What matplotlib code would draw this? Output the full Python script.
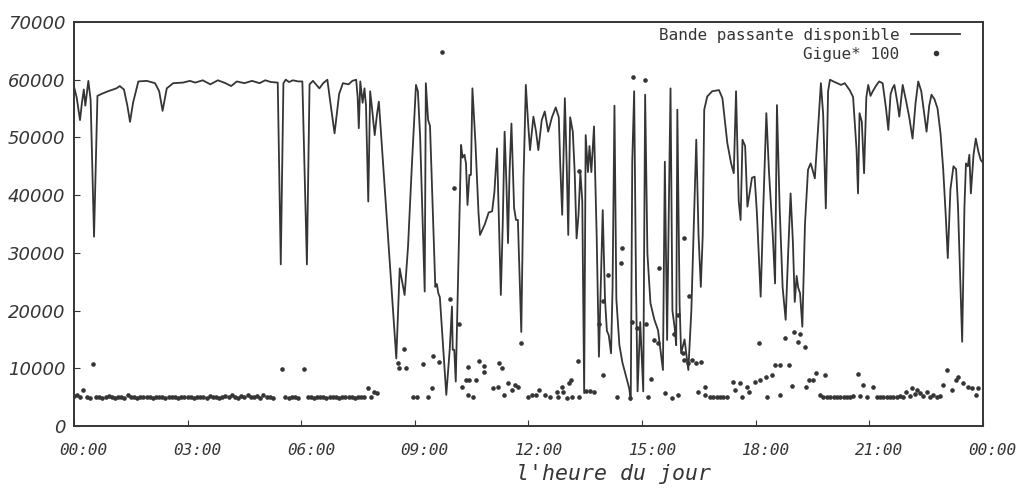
import numpy as np
import matplotlib
matplotlib.use('Agg')
import matplotlib.pyplot as plt
from matplotlib.transforms import ScaledTranslation

# bande passante disponible (heure du jour, valeur)
bw_h = [0.00, 0.07, 0.16, 0.21, 0.26, 0.30, 0.38, 0.44, 0.53, 0.62, 0.75, 0.90, 1.03, 1.12, 1.21, 1.32,
        1.41, 1.48, 1.56, 1.70, 1.92, 2.14, 2.25, 2.34, 2.45, 2.62, 2.88, 3.06,
        3.20, 3.40, 3.60, 3.80, 4.00, 4.15, 4.30, 4.50, 4.70, 4.90, 5.05, 5.20, 5.38, 5.46, 5.53, 5.59,
        5.68, 5.78, 5.92, 6.03, 6.15, 6.22, 6.31, 6.40, 6.48, 6.58, 6.69, 6.75, 6.88, 7.00, 7.10, 7.25,
        7.35, 7.45, 7.49, 7.52, 7.56, 7.62, 7.67, 7.71, 7.77, 7.82, 7.87, 7.94, 8.00, 8.05,
        8.51, 8.60, 8.73, 8.82, 8.92, 9.03, 9.08, 9.14, 9.26, 9.29, 9.35, 9.40, 9.54, 9.58, 9.62, 9.66,
        9.83, 9.92, 9.98, 10.00, 10.04, 10.08, 10.16, 10.22, 10.26, 10.31, 10.35, 10.39, 10.44, 10.48,
        10.52, 10.60, 10.68, 10.72, 10.85, 10.95, 11.04, 11.10, 11.17, 11.21, 11.27, 11.32, 11.37, 11.42,
        11.46, 11.50, 11.55, 11.62, 11.67, 11.72, 11.81, 11.87, 11.93, 11.99, 12.04, 12.13, 12.20, 12.26,
        12.35, 12.43, 12.52, 12.62, 12.72, 12.80, 12.84, 12.89, 12.96, 13.01, 13.05, 13.10, 13.17, 13.22,
        13.27, 13.32, 13.37, 13.42, 13.47, 13.51, 13.57, 13.61, 13.66, 13.73, 13.80, 13.86, 13.96, 14.02,
        14.07, 14.12, 14.18, 14.22, 14.27, 14.32, 14.40, 14.48, 14.58, 14.66, 14.70, 14.74, 14.79, 14.84,
        14.88, 14.95, 15.03, 15.08, 15.14, 15.22, 15.32, 15.42, 15.55, 15.60, 15.66, 15.70, 15.75, 15.80,
        15.86, 15.90, 15.93, 15.99, 16.03, 16.12, 16.22, 16.30, 16.37, 16.43, 16.49, 16.55, 16.60, 16.64,
        16.72, 16.85, 17.03, 17.12, 17.25, 17.35, 17.42, 17.48, 17.55, 17.60, 17.65, 17.72, 17.78, 17.83,
        17.90, 17.97, 18.03, 18.13, 18.20, 18.28, 18.35, 18.45, 18.51, 18.56, 18.63, 18.71, 18.79, 18.85,
        18.92, 18.98, 19.03, 19.08, 19.12, 19.17, 19.23, 19.30, 19.38, 19.45, 19.50, 19.56, 19.64, 19.72,
        19.78, 19.85, 19.91, 19.96, 20.05, 20.15, 20.25, 20.35, 20.48, 20.57, 20.66, 20.70, 20.74, 20.80,
        20.86, 20.92, 20.97, 21.03, 21.09, 21.18, 21.26, 21.35, 21.44, 21.50, 21.56, 21.61, 21.66, 21.74,
        21.79, 21.88, 21.97, 22.05, 22.14, 22.22, 22.29, 22.37, 22.45, 22.51, 22.58, 22.64, 22.72, 22.80,
        22.88, 22.95, 23.02, 23.07, 23.14, 23.22, 23.29, 23.34, 23.40, 23.45, 23.51, 23.55, 23.60, 23.64,
        23.68, 23.75, 23.81, 23.88, 23.94, 24.00]
bw = [58800, 57000, 53000, 56000, 58300, 55500, 59800, 56500, 32800, 57200, 57600, 58000, 58300, 58500, 58900, 58300,
      55500, 52700, 56000, 59700, 59800, 59400, 58000, 54600, 58500, 59400, 59500, 59800,
      59500, 59900, 59200, 59900, 59400, 58900, 59700, 59400, 59800, 59400, 59900, 59600, 59500, 28000, 59400, 60000,
      59600, 59900, 59700, 59700, 28000, 59200, 59800, 59100, 58500, 59400, 60000, 57000, 50700, 57500, 59400, 59200,
      59800, 60000, 57000, 51600, 59700, 56000, 58500, 55500, 38900, 58000, 55000, 50400, 54000, 56200,
      11700, 27300, 22700, 31100, 45000, 59100, 58000, 50000, 23300, 59400, 53000, 52000, 24100, 24600, 23000, 22300,
      5400, 13200, 20700, 13200, 13200, 7700, 31100, 48700, 46500, 47000, 45500, 38300, 43500, 43500,
      58500, 49000, 37000, 33100, 35000, 37000, 37200, 40500, 48100, 38000, 22700, 35000, 51000, 41500,
      31700, 44000, 52400, 37800, 35700, 35700, 16300, 43000, 59100, 52500, 47800, 53600, 51000, 47800,
      53000, 54500, 51000, 53500, 55200, 53500, 45000, 36600, 56800, 45000, 33100, 53500, 51000, 44000,
      32500, 36500, 44000, 39000, 5700, 50400, 44000, 48500, 44000, 51900, 33000, 12000, 37400, 22000,
      16500, 15700, 12600, 24000, 55500, 22000, 14000, 11000, 8500, 6500, 4500, 45800, 58000, 24000,
      6000, 18000, 6000, 57400, 29900, 21300, 18500, 16600, 9700, 45800, 14900, 35000, 58500, 20000,
      17000, 14000, 54800, 21000, 12600, 15000, 9700, 20000, 35700, 49600, 33000, 24100, 33000, 54800,
      57100, 58000, 58200, 56800, 49000, 45500, 43800, 58000, 39000, 35700, 49600, 48500, 38000, 40000,
      43000, 43200, 37000, 22400, 38000, 54200, 44000, 33000, 24700, 55600, 38000, 24000, 18400, 29000,
      40300, 32000, 21500, 26000, 24000, 23000, 17200, 35000, 44400, 45500, 44400, 42900, 51000, 59400,
      54000, 37700, 58000, 60000, 59700, 59400, 59100, 59400, 58200, 57000, 48000, 40300, 54200, 52700,
      43800, 57000, 59100, 57200, 58000, 59000, 59700, 59400, 55000, 51300, 57500, 58500, 59100, 56000,
      53600, 59100, 56300, 53600, 49800, 56000, 59700, 58000, 54000, 51000, 55500, 57400, 56600, 55000,
      50600, 44400, 36000, 29100, 41000, 45000, 44500, 38000, 25000, 14600, 38000, 45500, 45000, 47000,
      40300, 47000, 49800, 47500, 46100, 45600]

# gigue (ms), mesure toutes les 5 min de 00:00 a 08:00 (None = pas de point)
gigue_base = [52, 54, 50, 62, 51, 49, 107, 50, 51, 49, 50, 52,
              50, 49, 51, 50, 49, 53, 50, 51, 49, 50, 50, 51,
              50, 49, 50, 51, 50, 49, 50, 50, 51, 49, 50, 50,
              51, 50, 49, 50, 51, 50, 49, 52, 50, 51, 49, 50,
              52, 50, 53, 51, 49, 52, 50, 54, 51, 50, 52, 49,
              53, 50, 51, 49, None, None, 99, 50, 49, 51, 50, 49,
              None, 99, 50, 51, 49, 50, 50, 51, 49, 50, 51, 50,
              49, 50, 51, 50, 50, 49, 51, 50, 50, 65, 50, 59, 57]
# gigue apres 08:00 (heure, ms)
gigue_h = [8.56, 8.58, 8.71, 8.77, 8.95, 9.06, 9.22, 9.35, 9.44, 9.49, 9.64, 9.71, 9.93, 10.03, 10.17,
           10.24, 10.35, 10.40, 10.41, 10.44, 10.53, 10.61, 10.70, 10.83, 10.83, 11.07, 11.19, 11.23, 11.29,
           11.35, 11.47, 11.56, 11.64, 11.73, 11.80, 12.00, 12.08, 12.20, 12.29, 12.44, 12.57, 12.74, 12.77,
           12.88, 12.92, 13.02, 13.08, 13.11, 13.14, 13.31, 13.34, 13.34, 13.52, 13.62, 13.74, 13.87, 13.96,
           13.96, 14.09, 14.34, 14.44, 14.46, 14.68, 14.72, 14.77, 14.87, 15.08, 15.10, 15.16, 15.23, 15.31,
           15.43, 15.45, 15.60, 15.78, 15.84, 15.96, 15.96, 16.07, 16.11, 16.11, 16.22, 16.25, 16.31, 16.42,
           16.48, 16.55, 16.66, 16.66, 16.79, 16.88, 16.97, 17.06, 17.14, 17.23, 17.41, 17.45, 17.58, 17.65,
           17.78, 17.83, 17.98, 18.09, 18.11, 18.27, 18.30, 18.42, 18.51, 18.64, 18.64, 18.77, 18.89, 18.95,
           19.02, 19.11, 19.17, 19.30, 19.33, 19.41, 19.52, 19.59, 19.70, 19.78, 19.83, 19.88, 19.97, 20.06,
           20.14, 20.23, 20.32, 20.41, 20.50, 20.58, 20.70, 20.75, 20.84, 20.93, 21.10, 21.19, 21.28, 21.37,
           21.46, 21.54, 21.63, 21.72, 21.81, 21.90, 21.98, 22.07, 22.12, 22.20, 22.25, 22.34, 22.42, 22.51,
           22.60, 22.69, 22.78, 22.86, 22.95, 23.06, 23.17, 23.29, 23.33, 23.46, 23.61, 23.71, 23.81, 23.88]
gigue_ms = [109, 100, 133, 100, 50, 50, 107, 50, 65, 121, 111, 648, 220, 412, 176,
            68, 80, 54, 102, 80, 50, 80, 113, 104, 94, 65, 68, 110, 100,
            54, 74, 62, 71, 68, 144, 50, 54, 53, 62, 54, 51, 59, 51,
            68, 59, 48, 74, 80, 51, 113, 441, 51, 61, 61, 59, 176, 216,
            88, 262, 51, 282, 308, 48, 181, 604, 169, 599, 176, 50, 82, 149,
            143, 274, 57, 48, 160, 193, 54, 126, 325, 114, 109, 225, 114, 109,
            59, 111, 68, 54, 51, 50, 51, 50, 51, 51, 77, 62, 74, 51,
            68, 59, 77, 143, 80, 85, 51, 88, 106, 106, 54, 152, 106, 69,
            163, 146, 160, 137, 68, 80, 80, 92, 54, 51, 88, 51, 50, 50,
            51, 50, 51, 50, 51, 52, 90, 52, 71, 50, 68, 51, 50, 51,
            50, 51, 50, 51, 52, 51, 59, 52, 65, 55, 62, 57, 52, 59,
            51, 54, 51, 52, 71, 97, 62, 80, 85, 74, 68, 66, 54, 65]

yticks = [0, 10000, 20000, 30000, 40000, 50000, 60000, 70000]
xticks = [0, 3, 6, 9, 12, 15, 18, 21, 24]
xticklabels = ['00:00', '03:00', '06:00', '09:00', '12:00', '15:00', '18:00', '21:00', '00:00']

ink = '#353535'
fig = plt.figure(figsize=(10.23, 4.91), dpi=100)
ax = fig.add_axes([0.0723, 0.1324, 0.8886, 0.8228])

ax.plot(bw_h, bw, color=ink, lw=1.3, label='Bande passante disponible')
tb = np.arange(len(gigue_base)) * 5 / 60.0
gb = np.array([np.nan if g is None else g for g in gigue_base], dtype=float)
th = np.concatenate([tb, gigue_h])
gv = np.concatenate([gb, gigue_ms]) * 100
ax.plot(th, gv, ls='none', marker='o', ms=2.3, color=ink, mec=ink, label='Gigue* 100')

ax.set_xlim(0, 24)
ax.set_ylim(0, 70000)
ax.set_xticks(xticks)
ax.set_xticklabels(xticklabels, family='DejaVu Sans Mono', style='oblique', fontsize=11.5, color=ink)
ax.set_yticks(yticks)
ax.set_yticklabels([str(v) for v in yticks], family='DejaVu Sans', style='italic', fontsize=13, color=ink)
ax.tick_params(axis='x', direction='in', length=4, pad=12, color=ink)
ax.tick_params(axis='y', direction='in', length=4, pad=6, color=ink)
# les etiquettes de l'axe x sont un peu decalees vers la droite
for lab in ax.get_xticklabels():
    lab.set_transform(lab.get_transform() + ScaledTranslation(7 / 72, 0, fig.dpi_scale_trans))
for s in ax.spines.values():
    s.set_linewidth(1.4)
    s.set_color(ink)

ax.set_xlabel("l'heure du jour", family='DejaVu Sans Mono', style='oblique', fontsize=15.5, color=ink)
ax.xaxis.set_label_coords(0.594, -0.094)

ax.legend(loc='upper right', bbox_to_anchor=(0.975, 0.985), frameon=False, markerfirst=False,
          borderaxespad=0, borderpad=0, handlelength=3.1, handletextpad=0.7, labelspacing=0.25,
          prop={'family': 'DejaVu Sans Mono', 'size': 11.5}, labelcolor=ink, markerscale=1.3)

fig.savefig('out.png', dpi=100, facecolor='white')
